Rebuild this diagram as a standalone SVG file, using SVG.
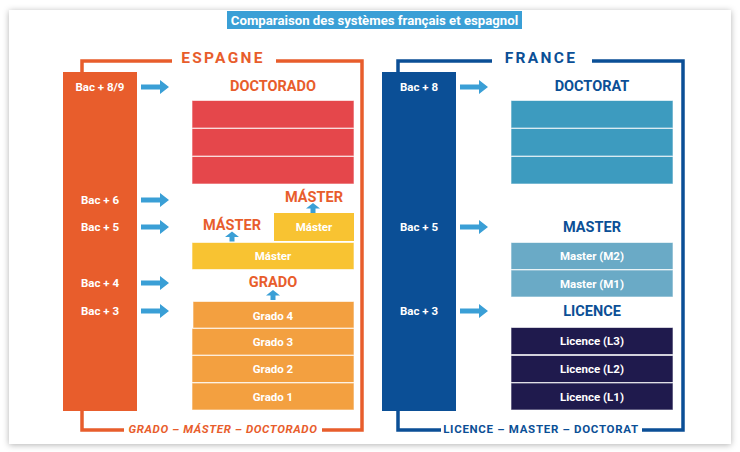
<svg xmlns="http://www.w3.org/2000/svg" width="740" height="452" viewBox="0 0 740 452">
<defs>
<filter id="sh" x="-5%" y="-5%" width="110%" height="115%">
<feDropShadow dx="0" dy="1" stdDeviation="3" flood-color="#000" flood-opacity="0.3"/>
</filter>
<path id="arr" d="M0,-2.5 H19 V-7 L28,0 L19,7 V2.5 H0 Z"/>
<path id="up" d="M-2.5,10 V5.5 H-7 L0,0 L7,5.5 H2.5 V10 Z"/>
</defs>
<style>
text{font-family:Roboto,"Liberation Sans",sans-serif;font-weight:700;text-anchor:middle;dominant-baseline:central}
.w{fill:#fff;font-size:11.5px}
.wl{fill:#fff;font-size:11.5px}
.or{fill:#e85d2c}
.bl{fill:#0b4f96}
.h{font-size:14.5px}
.arrow{fill:#3a9fd6}
.blk{stroke:#fff;stroke-opacity:0.6;stroke-width:1}
</style>
<rect x="9" y="10" width="722" height="434" fill="#fff" filter="url(#sh)"/>
<g id="title">
<rect x="227" y="11" width="295" height="18" fill="#3a9fd6"/>
<text x="374.5" y="20" fill="#fff" font-size="13.2">Comparaison des systèmes français et espagnol</text>
</g>
<g id="connectors">
<g fill="none" stroke="#e85d2c" stroke-width="3.5">
<polyline points="82,72 82,61 172,61"/>
<polyline points="276,61 362,61 362,430 322,430"/>
<polyline points="82,411 82,430 124,430"/>
</g>
<g fill="none" stroke="#0b4f96" stroke-width="3.5">
<polyline points="398,72 398,61 492,61"/>
<polyline points="592,61 683,61 683,430 642,430"/>
<polyline points="398,411 398,430 441,430"/>
</g>
<g class="arrow">
<use href="#arr" x="141" y="87"/>
<use href="#arr" x="141" y="200"/>
<use href="#arr" x="141" y="227"/>
<use href="#arr" x="141" y="283"/>
<use href="#arr" x="141" y="311"/>
<use href="#arr" x="460" y="87"/>
<use href="#arr" x="460" y="227"/>
<use href="#arr" x="460" y="311"/>
<use href="#up" x="313" y="203"/>
<use href="#up" x="232" y="231.5"/>
<use href="#up" x="273" y="290"/>
</g>
</g>
<g id="espagne-title"><text x="223" y="58" class="or" font-size="15.5" letter-spacing="2.3">ESPAGNE</text></g>
<g id="espagne-bottom"><text x="223" y="429" class="or" font-size="11.5" font-style="italic" letter-spacing="0.6">GRADO – MÁSTER – DOCTORADO</text></g>
<g id="espagne-bar">
<rect x="63" y="72" width="74" height="339" fill="#e85d2c"/>
<text x="100" y="87" class="w">Bac + 8/9</text>
<text x="100" y="200" class="w">Bac + 6</text>
<text x="100" y="227" class="w">Bac + 5</text>
<text x="100" y="283" class="w">Bac + 4</text>
<text x="100" y="311" class="w">Bac + 3</text>
</g>
<g id="doctorado">
<text x="273" y="86" class="or h">DOCTORADO</text>
<rect class="blk" x="192" y="100.5" width="162" height="27.5" fill="#e5474b"/>
<rect class="blk" x="192" y="128.5" width="162" height="27.5" fill="#e5474b"/>
<rect class="blk" x="192" y="156.5" width="162" height="27.5" fill="#e5474b"/>
</g>
<g id="master-es">
<text x="314" y="197" class="or h">MÁSTER</text>
<rect x="274" y="213" width="80" height="28" fill="#f8c332"/>
<text x="314" y="227" class="wl">Máster</text>
<text x="232" y="225" class="or h">MÁSTER</text>
<rect x="192" y="242.5" width="162" height="27" fill="#f8c332" class="blk"/>
<text x="273" y="256" class="wl">Máster</text>
</g>
<g id="grado">
<text x="273" y="282" class="or h">GRADO</text>
<rect class="blk" x="193" y="301.5" width="161" height="26.5" fill="#f3a040"/>
<rect class="blk" x="192" y="328.5" width="162" height="26.5" fill="#f3a040"/>
<rect class="blk" x="192" y="355.5" width="162" height="27" fill="#f3a040"/>
<rect class="blk" x="192" y="383" width="162" height="27" fill="#f3a040"/>
<text x="273" y="316" class="wl">Grado 4</text>
<text x="273" y="342" class="wl">Grado 3</text>
<text x="273" y="369" class="wl">Grado 2</text>
<text x="273" y="397" class="wl">Grado 1</text>
</g>
<g id="france-title"><text x="541" y="58" class="bl" font-size="15.5" letter-spacing="2.3">FRANCE</text></g>
<g id="france-bottom"><text x="541" y="429" class="bl" font-size="11.5" letter-spacing="0.7">LICENCE – MASTER – DOCTORAT</text></g>
<g id="france-bar">
<rect x="382" y="72" width="74" height="339" fill="#0b4f96"/>
<text x="419" y="87" class="w">Bac + 8</text>
<text x="419" y="227" class="w">Bac + 5</text>
<text x="419" y="311" class="w">Bac + 3</text>
</g>
<g id="doctorat">
<text x="592" y="86" class="bl h">DOCTORAT</text>
<rect class="blk" x="511" y="100.5" width="162" height="27.5" fill="#3d9bbf"/>
<rect class="blk" x="511" y="128.5" width="162" height="27.5" fill="#3d9bbf"/>
<rect class="blk" x="511" y="156.5" width="162" height="27.5" fill="#3d9bbf"/>
</g>
<g id="master-fr">
<text x="592" y="227" class="bl h">MASTER</text>
<rect class="blk" x="511" y="242.5" width="162" height="27" fill="#6aaac6"/>
<rect class="blk" x="511" y="270" width="162" height="27" fill="#6aaac6"/>
<text x="592" y="256" class="wl">Master (M2)</text>
<text x="592" y="284" class="wl">Master (M1)</text>
</g>
<g id="licence">
<text x="592" y="311" class="bl h">LICENCE</text>
<rect class="blk" x="511" y="327.5" width="162" height="27" fill="#1f1a4d"/>
<rect class="blk" x="511" y="355.5" width="162" height="27" fill="#1f1a4d"/>
<rect class="blk" x="511" y="383" width="162" height="27" fill="#1f1a4d"/>
<text x="592" y="341" class="wl">Licence (L3)</text>
<text x="592" y="369" class="wl">Licence (L2)</text>
<text x="592" y="397" class="wl">Licence (L1)</text>
</g>
</svg>
